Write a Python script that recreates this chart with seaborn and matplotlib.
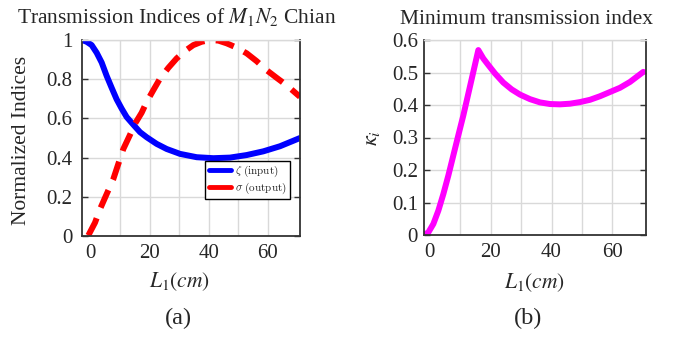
import numpy as np
import pandas as pd
import matplotlib
matplotlib.use("Agg")
import matplotlib.pyplot as plt
import seaborn as sns
from matplotlib.font_manager import FontProperties

# ---- data ----
zeta_x = [-3, -1.42, 0.28, 1.98, 3.68, 5.37, 7.07, 8.77, 10.46, 12.16, 14.42,
          16.69, 18.95, 22.35, 25.74, 30.27, 35.93, 41.59, 47.24, 52.90,
          58.56, 64.22, 71]
zeta_y = [1.0, 0.991, 0.974, 0.935, 0.885, 0.817, 0.756, 0.697, 0.650, 0.607,
          0.568, 0.530, 0.504, 0.470, 0.444, 0.419, 0.402, 0.397, 0.400,
          0.413, 0.432, 0.458, 0.50]

sigma_x = [-0.85, 1.41, 3.11, 5.37, 7.64, 9.33, 11.03, 13.29, 14.99, 17.25,
           18.95, 21.21, 23.48, 26.31, 29.13, 31.96, 34.79, 37.62, 40.45,
           43.28, 46.11, 49.50, 52.90, 56.29, 59.68, 63.08, 66.47, 71]
sigma_y = [0.003, 0.068, 0.137, 0.214, 0.291, 0.368, 0.444, 0.516, 0.573,
           0.629, 0.684, 0.744, 0.803, 0.858, 0.906, 0.944, 0.974, 0.991, 1.0,
           0.997, 0.983, 0.961, 0.932, 0.892, 0.846, 0.807, 0.769, 0.71]

kappa_x = [-2, -0.41, 1.23, 2.87, 4.51, 6.15, 7.79, 9.43, 11.07, 12.71, 14.35,
           15.99, 17.63, 19.27, 21.46, 24.19, 26.93, 29.66, 32.94, 36.22,
           39.50, 42.78, 46.06, 49.35, 52.63, 55.91, 59.19, 62.47, 65.75,
           70.12]
kappa_y = [0.0, 0.008, 0.034, 0.075, 0.126, 0.183, 0.245, 0.307, 0.368, 0.435,
           0.502, 0.569, 0.543, 0.523, 0.497, 0.469, 0.448, 0.432, 0.418,
           0.408, 0.403, 0.402, 0.404, 0.409, 0.416, 0.427, 0.440, 0.453,
           0.471, 0.502]

x_ticks = [0, 20, 40, 60]
x_minor = [10, 30, 50]
left_yticks = [0, 0.2, 0.4, 0.6, 0.8, 1.0]
left_yticklabels = ["0", "0.2", "0.4", "0.6", "0.8", "1"]
right_yticks = [0, 0.1, 0.2, 0.3, 0.4, 0.5, 0.6]
right_yticklabels = ["0", "0.1", "0.2", "0.3", "0.4", "0.5", "0.6"]

df_z = pd.DataFrame({"L": zeta_x, "v": zeta_y})
df_s = pd.DataFrame({"L": sigma_x, "v": sigma_y})
df_k = pd.DataFrame({"L": kappa_x, "v": kappa_y})

sns.set_theme(style="white")
plt.rcParams["font.family"] = ["Liberation Serif", "DejaVu Serif"]
plt.rcParams["mathtext.fontset"] = "stix"

W, H = 677, 337
fig = plt.figure(figsize=(W / 100, H / 100), dpi=100)
fig.patch.set_facecolor("white")

ax1 = fig.add_axes([82 / W, 1 - 236 / H, 218 / W, 196 / H])
ax2 = fig.add_axes([423.5 / W, 1 - 235 / H, 222.5 / W, 195 / H])

sns.lineplot(data=df_z, x="L", y="v", ax=ax1, color="#0000ff", lw=4.3,
             sort=False, label=r"$\zeta\ \mathrm{(input)}$")
sns.lineplot(data=df_s, x="L", y="v", ax=ax1, color="#ff0000", lw=4.3,
             sort=False, linestyle=(0, (3.2, 1.9)),
             label=r"$\sigma\ \mathrm{(output)}$")
sns.lineplot(data=df_k, x="L", y="v", ax=ax2, color="#ff00ff", lw=4.3,
             sort=False)

grid_col = "#d9d9d9"
for ax, xl, yt, ytl, ylim, ypad in [
    (ax1, (-3, 71), left_yticks, left_yticklabels, (0, 1), 7),
    (ax2, (-2, 71), right_yticks, right_yticklabels, (0, 0.6), 4),
]:
    ax.set_xlim(*xl)
    ax.set_ylim(*ylim)
    ax.set_xticks(x_ticks)
    ax.set_xticks(x_minor, minor=True)
    ax.set_xticklabels([str(t) for t in x_ticks])
    ax.set_yticks(yt)
    ax.set_yticklabels(ytl)
    ax.grid(True, which="both", axis="x", color=grid_col, lw=1)
    ax.grid(True, which="major", axis="y", color=grid_col, lw=1)
    ax.set_axisbelow(True)
    for gl in ax.get_xgridlines():
        if abs(gl.get_xdata()[0]) < 1e-9:
            gl.set_visible(False)
    ax.tick_params(axis="y", direction="in", left=True, right=True, length=4,
                   width=1, color="#333333", labelsize=15, pad=ypad)
    ax.tick_params(axis="x", which="both", direction="in", bottom=False,
                   top=False, labelsize=15, pad=6)
    for s in ["left", "right", "bottom"]:
        ax.spines[s].set_color("#333333")
        ax.spines[s].set_linewidth(1.3)
    ax.spines["top"].set_color(grid_col)
    ax.spines["top"].set_linewidth(1)
    ax.set_xlabel("")
    ax.set_ylabel("")
    ax.set_facecolor("white")

leg_prop = FontProperties(family="DejaVu Serif", size=8, math_fontfamily="cm")
leg = ax1.legend(loc="upper left", bbox_to_anchor=(0.566, 0.385),
                 borderaxespad=0, prop=leg_prop, frameon=True, fancybox=False,
                 framealpha=1, edgecolor="black", handlelength=2.0,
                 handletextpad=0.35, labelspacing=0.15, borderpad=0.3)
leg.get_frame().set_linewidth(1.0)
for h in leg.get_lines():
    h.set_linestyle("-")
    h.set_linewidth(3.5)

def ftext(x, y, s, size, **kw):
    fig.text(x / W, 1 - y / H, s, ha="center", va="center", fontsize=size, **kw)

ftext(177, 17, r"Transmission Indices of $M_1N_2$ Chian", 15.5)
ftext(527, 19, "Minimum transmission index", 15.5)
ftext(22, 140, "Normalized Indices", 15.5, rotation=90)
ftext(372, 138, r"$\kappa_i$", 16, rotation=90)
ftext(180, 282, r"$L_1(cm)$", 15.5)
ftext(535, 283, r"$L_1(cm)$", 15.5)
ftext(178, 318, "(a)", 17.5)
ftext(528, 318, "(b)", 17.5)

fig.savefig("out.png", dpi=100)
